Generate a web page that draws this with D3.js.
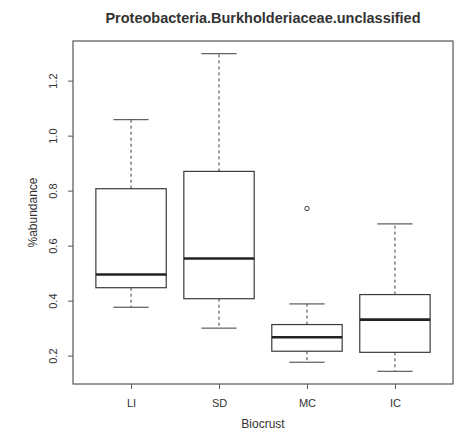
<!DOCTYPE html>
<html>
<head>
<meta charset="utf-8">
<script src="https://cdn.jsdelivr.net/npm/d3@7"></script>
<style>
  body { margin: 0; background: #fff; }
  text { font-family: "Liberation Sans", Arial, sans-serif; fill: #333; }
</style>
</head>
<body>
<div id="chart"></div>
<script>
// values
var groups = ["LI", "SD", "MC", "IC"];
var whiskerLow = [0.376, 0.30, 0.176, 0.143];
var q1 = [0.447, 0.407, 0.216, 0.212];
var medians = [0.495, 0.553, 0.267, 0.331];
var q3 = [0.807, 0.870, 0.313, 0.422];
var whiskerHigh = [1.058, 1.298, 0.388, 0.679];
var outliers = [{group: "MC", value: 0.735}];
var yTicks = [0.2, 0.4, 0.6, 0.8, 1.0, 1.2];

var width = 461, height = 436;
var margin = {top: 41, right: 8, bottom: 52, left: 73};
var plotW = width - margin.left - margin.right;
var plotH = height - margin.top - margin.bottom;

var svg = d3.select("#chart").append("svg")
    .attr("width", width)
    .attr("height", height);

var chartGroup = svg.append("g")
    .attr("transform", `translate(${margin.left}, ${margin.top})`);

// R style 4% padding
var ymin = d3.min(whiskerLow), ymax = d3.max(whiskerHigh);
var pad = (ymax - ymin) * 0.04;
var yScale = d3.scaleLinear()
    .domain([ymin - pad, ymax + pad])
    .range([plotH, 0]);

var xScale = d3.scaleLinear()
    .domain([0.5 - 0.16, groups.length + 0.5 + 0.16])
    .range([0, plotW]);

var boxW = xScale(1.4) - xScale(0.6);

var data = groups.map(function(g, i) {
    return {
        group: g, pos: i + 1,
        lo: whiskerLow[i], q1: q1[i], med: medians[i], q3: q3[i], hi: whiskerHigh[i]
    };
});

var stroke = "#3a3a3a";

// boxes
var boxes = chartGroup.selectAll("g.box")
    .data(data)
    .enter()
    .append("g")
    .attr("class", "box");

// whiskers (dashed)
boxes.append("line")
    .attr("x1", d => xScale(d.pos))
    .attr("x2", d => xScale(d.pos))
    .attr("y1", d => yScale(d.q3))
    .attr("y2", d => yScale(d.hi))
    .attr("stroke", stroke)
    .attr("stroke-dasharray", "3,3");

boxes.append("line")
    .attr("x1", d => xScale(d.pos))
    .attr("x2", d => xScale(d.pos))
    .attr("y1", d => yScale(d.q1))
    .attr("y2", d => yScale(d.lo))
    .attr("stroke", stroke)
    .attr("stroke-dasharray", "3,3");

// caps
["hi", "lo"].forEach(function(k) {
    boxes.append("line")
        .attr("x1", d => xScale(d.pos) - boxW / 4)
        .attr("x2", d => xScale(d.pos) + boxW / 4)
        .attr("y1", d => yScale(d[k]))
        .attr("y2", d => yScale(d[k]))
        .attr("stroke", stroke);
});

boxes.append("rect")
    .attr("x", d => xScale(d.pos) - boxW / 2)
    .attr("width", boxW)
    .attr("y", d => yScale(d.q3))
    .attr("height", d => yScale(d.q1) - yScale(d.q3))
    .attr("fill", "none")
    .attr("stroke", stroke)
    .attr("stroke-width", 1.2);

boxes.append("line")
    .attr("x1", d => xScale(d.pos) - boxW / 2)
    .attr("x2", d => xScale(d.pos) + boxW / 2)
    .attr("y1", d => yScale(d.med))
    .attr("y2", d => yScale(d.med))
    .attr("stroke", "#222")
    .attr("stroke-width", 2.6);

// outliers
chartGroup.selectAll("circle.out")
    .data(outliers)
    .enter()
    .append("circle")
    .attr("class", "out")
    .attr("cx", d => xScale(groups.indexOf(d.group) + 1))
    .attr("cy", d => yScale(d.value))
    .attr("r", 2.2)
    .attr("fill", "none")
    .attr("stroke", stroke);

// frame
chartGroup.append("rect")
    .attr("width", plotW)
    .attr("height", plotH)
    .attr("fill", "none")
    .attr("stroke", "#555")
    .attr("stroke-width", 1.2);

// axes
var leftAxis = d3.axisLeft(yScale)
    .tickValues(yTicks)
    .tickFormat(d3.format(".1f"))
    .tickSize(5)
    .tickSizeOuter(0);

var yAxis = chartGroup.append("g").call(leftAxis);
yAxis.select(".domain").remove();
yAxis.selectAll("line").attr("stroke", "#555");
yAxis.selectAll("text")
    .attr("transform", "rotate(-90)")
    .attr("x", 0)
    .attr("y", -16)
    .attr("dy", "0")
    .attr("text-anchor", "middle")
    .style("font-size", "11px");

var bottomAxis = d3.axisBottom(xScale)
    .tickValues(d3.range(1, groups.length + 1))
    .tickFormat(d => groups[d - 1])
    .tickSize(5)
    .tickSizeOuter(0);

var xAxis = chartGroup.append("g")
    .attr("transform", `translate(0, ${plotH})`)
    .call(bottomAxis);
xAxis.select(".domain").remove();
xAxis.selectAll("line").attr("stroke", "#555");
xAxis.selectAll("text")
    .attr("y", 15)
    .style("font-size", "11px");

// title
svg.append("text")
    .attr("x", margin.left + plotW / 2)
    .attr("y", 23)
    .attr("text-anchor", "middle")
    .style("font-size", "14.5px")
    .style("font-weight", "bold")
    .text("Proteobacteria.Burkholderiaceae.unclassified");

// axis labels
svg.append("text")
    .attr("x", margin.left + plotW / 2)
    .attr("y", 428)
    .attr("text-anchor", "middle")
    .style("font-size", "12px")
    .text("Biocrust");

svg.append("text")
    .attr("transform", `translate(37, ${margin.top + plotH / 2}) rotate(-90)`)
    .attr("text-anchor", "middle")
    .style("font-size", "12px")
    .text("%abundance");
</script>
</body>
</html>
